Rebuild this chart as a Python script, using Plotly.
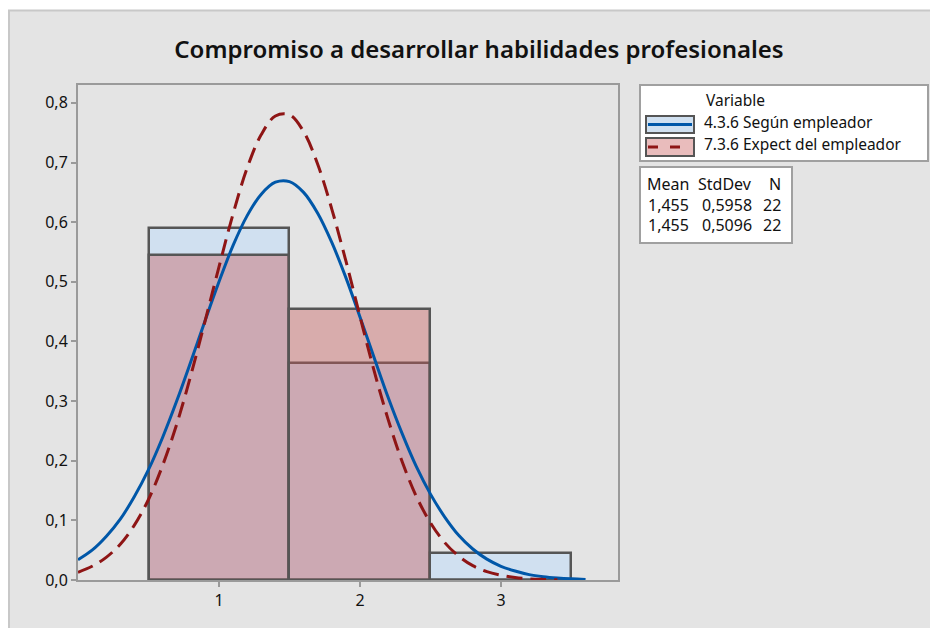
import plotly.graph_objects as go

# histogram densities (fraction of N=22) per class
classes = [1, 2, 3]
seg_empleador = [0.5909, 0.3636, 0.0455]
expect_empleador = [0.5455, 0.4545, 0.0]

# fitted normal curves
curve_x = [0.0, 0.1, 0.2, 0.3, 0.4, 0.5, 0.6, 0.7, 0.8, 0.9, 1.0, 1.1, 1.2,
           1.3, 1.4, 1.5, 1.6, 1.7, 1.8, 1.9, 2.0, 2.1, 2.2, 2.3, 2.4, 2.5,
           2.6, 2.7, 2.8, 2.9, 3.0, 3.1, 3.2, 3.3, 3.4, 3.5, 3.6]
curve_seg = [0.034, 0.050, 0.073, 0.102, 0.140, 0.185, 0.239, 0.300, 0.366,
             0.434, 0.500, 0.561, 0.611, 0.647, 0.667, 0.668, 0.650, 0.615,
             0.566, 0.507, 0.441, 0.373, 0.306, 0.245, 0.190, 0.144, 0.106,
             0.075, 0.052, 0.035, 0.023, 0.015, 0.009, 0.0055, 0.0033,
             0.0019, 0.0010]
curve_exp = [0.013, 0.023, 0.038, 0.060, 0.092, 0.135, 0.192, 0.261, 0.343,
             0.433, 0.525, 0.614, 0.691, 0.747, 0.778, 0.780, 0.752, 0.697,
             0.622, 0.535, 0.442, 0.351, 0.269, 0.198, 0.140, 0.096, 0.063,
             0.040, 0.024, 0.014, 0.008, 0.004, 0.002, 0.001, 0.0005,
             0.0002, 0.0001]

series_names = ["4.3.6 Según empleador", "7.3.6 Expect del empleador"]
stats_header = ["Mean", "StdDev", "N"]
stats_rows = [["1,455", "0,5958", "22"], ["1,455", "0,5096", "22"]]

BLUE_FILL = "#d0e0f0"
RED_FILL = "rgba(197,88,88,0.40)"
BLUE_LINE = "#0057a8"
RED_LINE = "#8e1515"
EDGE = "#555555"
FONT = "Noto Sans"

# page body has an 8px margin, so the figure is a bit smaller than the window
OFF = 8
W, H = 938 - OFF, 628 - OFF
ML, MR, MT, MB = 70, 320, 77, 48
PW, PH = W - ML - MR, H - MT - MB


# helpers: window pixel -> paper coordinates
def px(x):
    return (x - OFF - ML) / PW


def py(y):
    return (H - MB - (y - OFF)) / PH


fig = go.Figure()

fig.add_trace(go.Bar(x=classes, y=seg_empleador, width=1,
                     marker=dict(color=BLUE_FILL, line=dict(color=EDGE, width=2.5)),
                     showlegend=False, hoverinfo="skip"))
fig.add_trace(go.Bar(x=classes, y=expect_empleador, width=1,
                     marker=dict(color=RED_FILL, line=dict(color=EDGE, width=2.5)),
                     showlegend=False, hoverinfo="skip"))

fig.add_trace(go.Scatter(x=curve_x, y=curve_seg, mode="lines", line_shape="spline",
                         line=dict(color=BLUE_LINE, width=3),
                         showlegend=False, hoverinfo="skip"))
fig.add_trace(go.Scatter(x=curve_x[:35], y=curve_exp[:35], mode="lines", line_shape="spline",
                         line=dict(color=RED_LINE, width=3, dash="16px,8px"),
                         showlegend=False, hoverinfo="skip"))

shapes = [
    # outer grey panel
    dict(type="rect", xref="paper", yref="paper", layer="below",
         x0=px(9), x1=px(950), y0=py(640), y1=py(10.5),
         fillcolor="#e4e4e4", line=dict(color="#c8c8c8", width=2)),
    # legend box
    dict(type="rect", xref="paper", yref="paper",
         x0=px(640), x1=px(928), y0=py(161), y1=py(85),
         fillcolor="white", line=dict(color="#a0a0a0", width=2)),
    # stats box
    dict(type="rect", xref="paper", yref="paper",
         x0=px(640), x1=px(792), y0=py(243), y1=py(167),
         fillcolor="white", line=dict(color="#a0a0a0", width=2)),
    # swatches
    dict(type="rect", xref="paper", yref="paper",
         x0=px(646), x1=px(694), y0=py(133), y1=py(116),
         fillcolor=BLUE_FILL, line=dict(color=EDGE, width=2)),
    dict(type="line", xref="paper", yref="paper",
         x0=px(648), x1=px(692), y0=py(124.5), y1=py(124.5),
         line=dict(color=BLUE_LINE, width=3)),
    dict(type="rect", xref="paper", yref="paper",
         x0=px(646), x1=px(694), y0=py(156), y1=py(138),
         fillcolor="#e9bcbc", line=dict(color=EDGE, width=2)),
    dict(type="line", xref="paper", yref="paper",
         x0=px(648), x1=px(692), y0=py(147), y1=py(147),
         line=dict(color=RED_LINE, width=3, dash="10px,12px")),
]

annotations = [
    dict(text="Variable", x=px(704), y=py(100)),
    dict(text=series_names[0], x=px(702), y=py(122)),
    dict(text=series_names[1], x=px(702), y=py(144)),
]
for a in annotations:
    a.update(xref="paper", yref="paper", xanchor="left", yanchor="middle",
             showarrow=False, font=dict(family=FONT, size=15.5, color="#111"))

col_right = [691, 754, 783]
row_y = [184, 205, 225]
for row, vals in zip(row_y, [stats_header] + stats_rows):
    for xr, v in zip(col_right, vals):
        annotations.append(dict(text=v, x=px(xr), y=py(row), xref="paper", yref="paper",
                                xanchor="right", yanchor="middle", showarrow=False,
                                font=dict(family=FONT, size=16, color="#111")))

fig.update_layout(
    width=W, height=H,
    margin=dict(l=ML, r=MR, t=MT, b=MB),
    barmode="overlay", bargap=0,
    paper_bgcolor="white", plot_bgcolor="white",
    separators=",.",
    title=dict(text="Compromiso a desarrollar habilidades profesionales",
               xref="container", x=(479 - OFF) / W, xanchor="center",
               yref="container", y=1 - (50 - OFF) / H, yanchor="middle",
               font=dict(family=FONT, size=24, color="#111", weight=600)),
    font=dict(family=FONT, size=16, color="#111"),
    shapes=shapes, annotations=annotations,
)
fig.update_xaxes(range=[0, 3.83], tickvals=[1, 2, 3], showgrid=False, zeroline=False,
                 showline=True, mirror=True, linecolor="#9a9a9a", linewidth=2,
                 ticks="outside", ticklen=5, tickwidth=2, tickcolor="#9a9a9a",
                 tickfont=dict(size=16))
fig.update_yaxes(range=[0, 0.83], tickvals=[0, 0.1, 0.2, 0.3, 0.4, 0.5, 0.6, 0.7, 0.8],
                 tickformat=".1f", showgrid=False, zeroline=False,
                 showline=True, mirror=True, linecolor="#9a9a9a", linewidth=2,
                 ticks="outside", ticklen=5, tickwidth=2, tickcolor="#9a9a9a",
                 tickfont=dict(size=16))

fig.write_html("out.html")
